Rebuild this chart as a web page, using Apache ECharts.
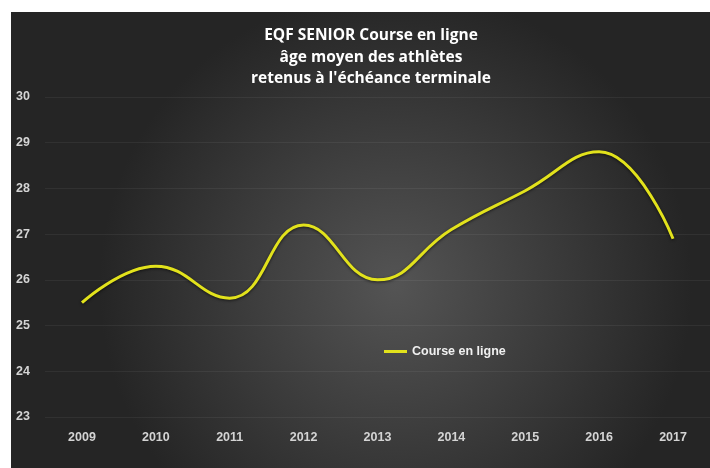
<!DOCTYPE html>
<html>
<head>
<meta charset="utf-8">
<script src="https://cdn.jsdelivr.net/npm/echarts@6/dist/echarts.min.js"></script>
<style>
  html, body { margin: 0; padding: 0; background: #fff; }
  #chart { width: 710px; height: 468px; }
</style>
</head>
<body>
<div id="chart"></div>
<script>
// données
const years = ['2009', '2010', '2011', '2012', '2013', '2014', '2015', '2016', '2017'];
const ageMoyen = [25.5, 26.3, 25.6, 27.2, 26.0, 27.1, 27.95, 28.8, 26.9];
const titleLines = ['EQF SENIOR Course en ligne', 'âge moyen des athlètes', "retenus à l'échéance terminale"];
const serieName = 'Course en ligne';

const chart = echarts.init(document.getElementById('chart'));

const option = {
  backgroundColor: '#ffffff',
  animation: false,
  // fond sombre avec dégradé radial
  graphic: [{
    type: 'rect',
    z: -10,
    silent: true,
    shape: { x: 11, y: 12, width: 699, height: 456 },
    style: {
      fill: new echarts.graphic.RadialGradient(0.55, 0.6, 0.65, [
        { offset: 0, color: '#545454' },
        { offset: 1, color: '#252525' },
      ]),
    },
  }],
  title: {
    text: titleLines.join('\n'),
    left: 366,
    textAlign: 'center',
    top: 20,
    textStyle: {
      color: '#ffffff',
      fontFamily: 'Open Sans',
      fontWeight: 'bold',
      fontSize: 15.5,
      lineHeight: 21.5,
    },
  },
  legend: {
    data: [serieName],
    left: 379,
    top: 340,
    icon: 'rect',
    itemWidth: 23,
    itemHeight: 3,
    textStyle: {
      color: '#f0f0f0',
      fontFamily: 'Liberation Sans',
      fontWeight: 'bold',
      fontSize: 12.5,
    },
  },
  grid: {
    left: 45,
    right: 0,
    top: 97,
    bottom: 51,
    containLabel: false,
  },
  xAxis: {
    type: 'category',
    boundaryGap: true,
    data: years,
    axisLine: { show: false },
    axisTick: { show: false },
    splitLine: { show: false },
    axisLabel: {
      margin: 14,
      color: '#d4d4d4',
      fontFamily: 'Liberation Sans',
      fontWeight: 'bold',
      fontSize: 12.5,
    },
  },
  yAxis: {
    type: 'value',
    min: 23,
    max: 30,
    interval: 1,
    axisLine: { show: false },
    axisTick: { show: false },
    splitLine: {
      lineStyle: { color: 'rgba(255,255,255,0.06)', width: 1 },
    },
    axisLabel: {
      align: 'left',
      margin: 29,
      color: '#d4d4d4',
      fontFamily: 'Liberation Sans',
      fontWeight: 'bold',
      fontSize: 12.5,
    },
  },
  series: [{
    name: serieName,
    type: 'line',
    data: ageMoyen,
    smooth: 0.45,
    showSymbol: false,
    color: '#e2e21c',
    lineStyle: {
      width: 3,
      color: '#e2e21c',
      shadowColor: 'rgba(0,0,0,0.6)',
      shadowBlur: 3,
      shadowOffsetY: 1,
    },
  }],
};

chart.setOption(option);
</script>
</body>
</html>
